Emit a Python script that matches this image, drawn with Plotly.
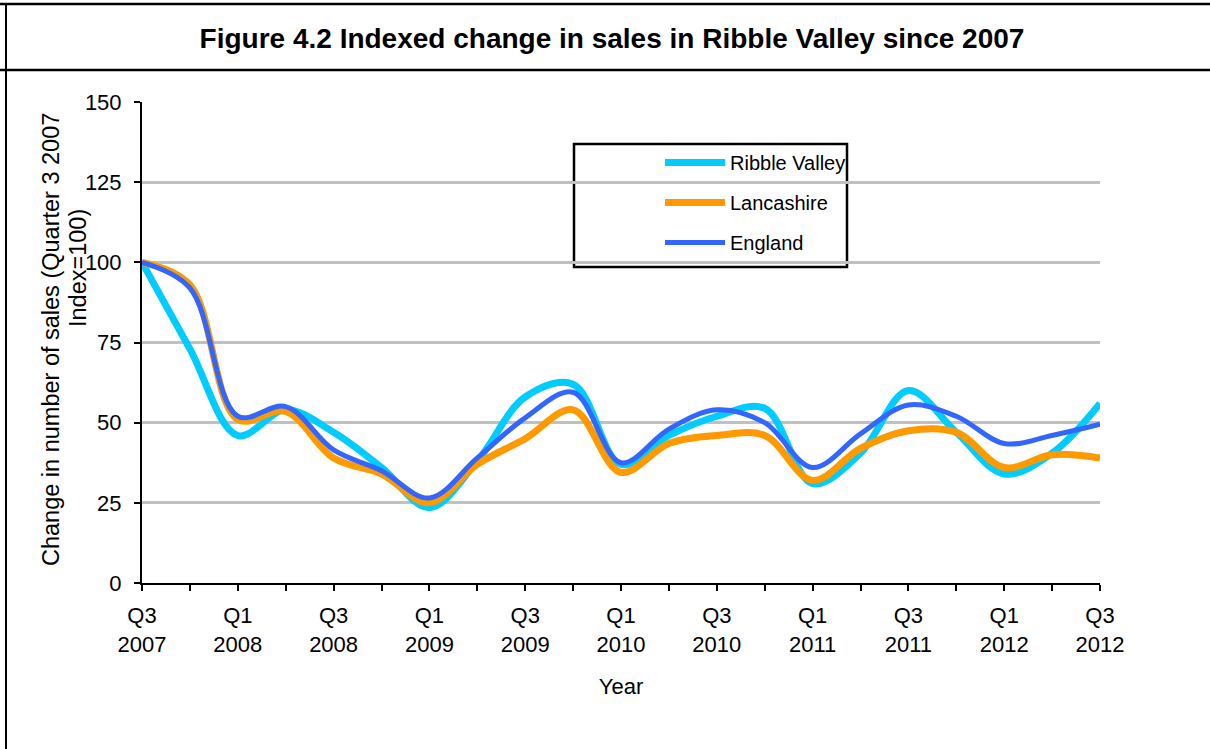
import plotly.graph_objects as go

# ---------------- data ----------------
quarters = ["Q3 2007", "Q4 2007", "Q1 2008", "Q2 2008", "Q3 2008", "Q4 2008",
            "Q1 2009", "Q2 2009", "Q3 2009", "Q4 2009", "Q1 2010", "Q2 2010",
            "Q3 2010", "Q4 2010", "Q1 2011", "Q2 2011", "Q3 2011", "Q4 2011",
            "Q1 2012", "Q2 2012", "Q3 2012"]
tick_labels = ["Q3<br>2007", "", "Q1<br>2008", "", "Q3<br>2008", "",
               "Q1<br>2009", "", "Q3<br>2009", "", "Q1<br>2010", "",
               "Q3<br>2010", "", "Q1<br>2011", "", "Q3<br>2011", "",
               "Q1<br>2012", "", "Q3<br>2012"]
ribble_valley = [100, 73, 46, 54, 47, 36, 23.5, 38, 58, 62, 37, 46, 52, 54.5,
                 31, 40.5, 60, 47, 34, 40.5, 56]
lancashire = [100, 93, 51, 53.5, 39, 34, 25, 37, 45, 54, 34.5, 43.5, 46, 46,
              32, 42, 47.5, 47, 36, 40, 39]
england = [100, 92, 52, 55, 41.5, 35, 26.5, 39, 51.5, 59.5, 37.5, 48, 54, 50,
           36, 46.5, 55.5, 52, 43.5, 46, 49.5]

# ---------------- layout geometry (pixels) ----------------
W, H = 1210, 749
L, R, T, B = 142, 1100, 102, 583
PW, PH = R - L, B - T


def px(x):
    return (x - L) / PW


def py(y):
    return (B - y) / PH


FONT = "Arial, 'Liberation Sans', sans-serif"

fig = go.Figure()
series = [("Ribble Valley", ribble_valley, "#00CCFF", 7),
          ("Lancashire", lancashire, "#FF9900", 7),
          ("England", england, "#3366FF", 5)]
for name, vals, col, w in series:
    fig.add_trace(go.Scatter(
        x=quarters, y=vals, name=name, mode="lines", legendgroup=name,
        line=dict(color=col, width=w, shape="spline", smoothing=1.0),
    ))

shapes = [
    # outer frame
    dict(type="line", xref="paper", yref="paper", x0=px(0), x1=px(W), y0=py(4), y1=py(4),
         line=dict(color="black", width=2.5)),
    dict(type="line", xref="paper", yref="paper", x0=px(0), x1=px(W), y0=py(70), y1=py(70),
         line=dict(color="black", width=2.5)),
    dict(type="line", xref="paper", yref="paper", x0=px(6), x1=px(6), y0=py(4), y1=py(H),
         line=dict(color="black", width=2)),
    # legend box
    dict(type="rect", xref="paper", yref="paper", x0=px(574), x1=px(847), y0=py(144), y1=py(267),
         line=dict(color="black", width=2.5), fillcolor="white", layer="below"),
]

annotations = [
    dict(text="Change in number of sales (Quarter 3 2007", textangle=-90,
         xref="paper", yref="paper", x=px(51), y=py(340), showarrow=False,
         xanchor="center", yanchor="middle", font=dict(family=FONT, size=23.5, color="black")),
    dict(text="Index=100)", textangle=-90,
         xref="paper", yref="paper", x=px(78), y=py(268), showarrow=False,
         xanchor="center", yanchor="middle", font=dict(family=FONT, size=23.5, color="black")),
]

fig.update_layout(
    width=W, height=H,
    margin=dict(l=L, r=W - R, t=T, b=H - B, autoexpand=False),
    paper_bgcolor="white", plot_bgcolor="white",
    title=dict(text="<b>Figure 4.2 Indexed change in sales in Ribble Valley since 2007</b>",
               x=612 / W, xanchor="center", y=1 - 38 / H, yanchor="middle",
               xref="container", yref="container",
               font=dict(family=FONT, size=28, color="black")),
    font=dict(family=FONT, size=22, color="black"),
    showlegend=True,
    legend=dict(x=px(660), y=py(143), xanchor="left", yanchor="top",
                bgcolor="rgba(0,0,0,0)", borderwidth=0,
                font=dict(family=FONT, size=20, color="black"),
                traceorder="grouped", tracegroupgap=11, itemwidth=60),
    shapes=shapes,
    annotations=annotations,
    xaxis=dict(
        type="category", range=[0, 20],
        tickmode="array", tickvals=quarters, ticktext=tick_labels,
        showline=True, linecolor="black", linewidth=2,
        ticks="outside", ticklen=6, tickwidth=2, tickcolor="black",
        showgrid=False, zeroline=False, tickangle=0,
        ticklabelstandoff=6,
        tickfont=dict(family=FONT, size=22, color="black"),
        title=dict(text="Year", standoff=23, font=dict(family=FONT, size=22, color="black")),
    ),
    yaxis=dict(
        range=[0, 150], tick0=0, dtick=25,
        showline=True, linecolor="black", linewidth=2,
        ticks="outside", ticklen=6, tickwidth=2, tickcolor="black",
        showgrid=True, gridcolor="#C0C0C0", gridwidth=3, zeroline=False,
        ticklabelstandoff=8,
        tickfont=dict(family=FONT, size=22, color="black"),
    ),
)

fig.write_html("out.html", config={"displayModeBar": False},
               post_script="document.body.style.margin='0';document.body.style.padding='0';")
